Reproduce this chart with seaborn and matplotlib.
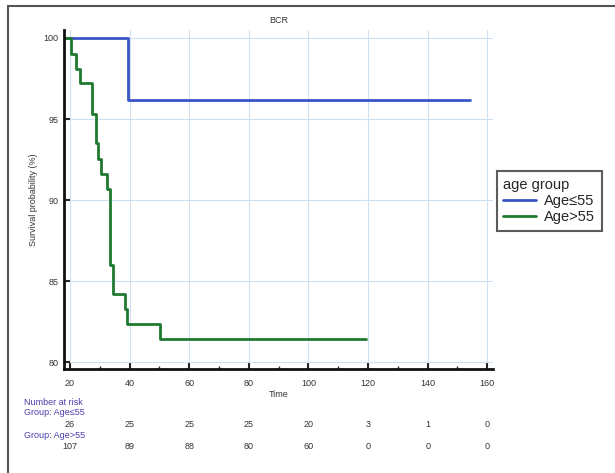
import numpy as np
import pandas as pd
import seaborn as sns
import matplotlib.pyplot as plt
from matplotlib.lines import Line2D
from matplotlib.ticker import MultipleLocator

# Kaplan-Meier step curves
time_young = [18.2, 39.5, 154.2]
surv_young = [100.0, 96.15, 96.15]

time_old = [18.2, 20.2, 22.2, 23.4, 27.5, 28.6, 29.5, 30.4, 32.6, 33.4,
            34.3, 38.5, 39.2, 50.2, 119.4]
surv_old = [100.0, 99.0, 98.1, 97.2, 95.3, 93.5, 92.55, 91.6, 90.7, 86.0,
            84.2, 83.3, 82.4, 81.45, 81.45]

groups = ["Age\u226455", "Age>55"]
colors = ["#3a55c8", "#1f7a30"]

risk_times = [20, 40, 60, 80, 100, 120, 140, 160]
risk_young = [26, 25, 25, 25, 20, 3, 1, 0]
risk_old = [107, 89, 88, 80, 60, 0, 0, 0]

df = pd.concat([
    pd.DataFrame({"Time": time_young, "surv": surv_young, "age group": groups[0]}),
    pd.DataFrame({"Time": time_old, "surv": surv_old, "age group": groups[1]}),
])

sns.set_style("white")
plt.rcParams["font.family"] = ["Liberation Sans", "DejaVu Sans"]

fig = plt.figure(figsize=(6.15, 4.73), dpi=100)
ax = fig.add_axes([0.104, 0.22, 0.698, 0.717])

sns.lineplot(data=df, x="Time", y="surv", hue="age group", palette=colors,
             drawstyle="steps-post", estimator=None, sort=False, lw=2,
             legend=False, ax=ax)

ax.set_xlim(18, 162)
ax.set_ylim(79.6, 100.5)
ax.xaxis.set_major_locator(MultipleLocator(20))
ax.xaxis.set_minor_locator(MultipleLocator(10))
ax.yaxis.set_major_locator(MultipleLocator(5))
ax.grid(True, which="major", color="#cfe0f0", lw=0.8)
for s in ["top", "right"]:
    ax.spines[s].set_visible(False)
for s in ["left", "bottom"]:
    ax.spines[s].set_color("#111111")
    ax.spines[s].set_linewidth(2)
ax.tick_params(which="major", direction="in", length=4, width=1.5,
               labelsize=6.5, labelcolor="#333333", pad=4, bottom=True, left=True)
ax.tick_params(axis="x", which="major", pad=7)
ax.tick_params(which="minor", direction="in", length=2, width=1, bottom=True)

ax.set_title("BCR", fontsize=6.5, color="#333333", pad=5)
ax.set_xlabel("Time", fontsize=6.5, color="#333333", labelpad=2)
ax.set_ylabel("Survival probability (%)", fontsize=6.5, color="#333333", labelpad=4)

# legend outside at right
handles = [Line2D([], [], color=c, lw=2) for c in colors]
leg = fig.legend(handles, groups, title="age group", loc="upper left",
                 bbox_to_anchor=(0.808, 0.638), fontsize=10.5, title_fontsize=10.5,
                 frameon=True, fancybox=False, handlelength=2.2,
                 borderpad=0.45, labelspacing=0.15, handletextpad=0.6,
                 borderaxespad=0)
leg._legend_box.align = "left"
leg.get_frame().set_edgecolor("#333333")
leg.get_frame().set_linewidth(1.5)

# number at risk table
lab_col = "#4a3fb0"
tr = ax.get_xaxis_transform()
fig.text(0.039, 0.148, "Number at risk", fontsize=6.5, color=lab_col, va="center")
fig.text(0.039, 0.127, "Group: " + groups[0], fontsize=6.5, color=lab_col, va="center")
fig.text(0.039, 0.080, "Group: " + groups[1], fontsize=6.5, color=lab_col, va="center")
for t, a, b in zip(risk_times, risk_young, risk_old):
    ax.text(t, -0.165, str(a), transform=tr, ha="center", va="center",
            fontsize=6.5, color="#333333")
    ax.text(t, -0.228, str(b), transform=tr, ha="center", va="center",
            fontsize=6.5, color="#333333")

# frame lines of the cropped image (top and left)
fig.add_artist(Line2D([0.013, 1.0], [0.987, 0.987], color="#555555", lw=1.5))
fig.add_artist(Line2D([0.013, 0.013], [0.0, 0.987], color="#555555", lw=1.5))

fig.savefig("out.png", dpi=100)
